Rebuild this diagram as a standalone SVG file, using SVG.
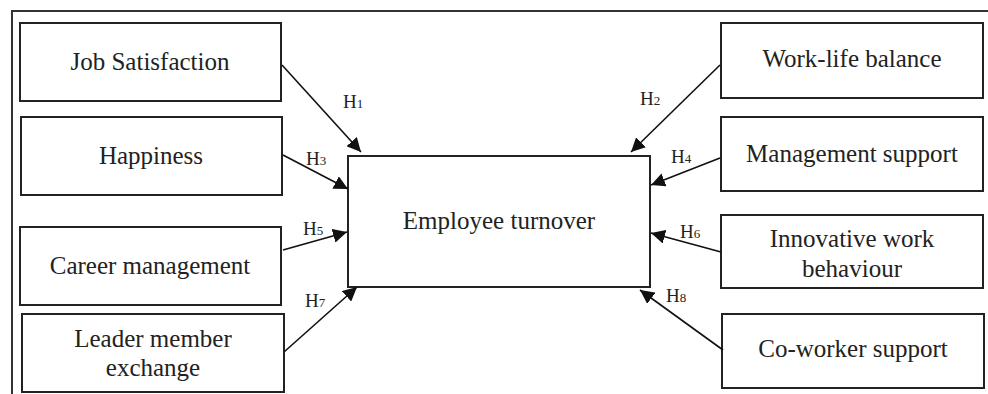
<svg xmlns="http://www.w3.org/2000/svg" width="988" height="394" viewBox="0 0 988 394">
<defs>
<marker id="ah" viewBox="0 0 10 10" refX="10" refY="5" markerWidth="14" markerHeight="14" markerUnits="userSpaceOnUse" orient="auto">
<path d="M0,0 L10,5 L0,10 Z" fill="#111"/>
</marker>
<style>
.box{fill:#fff;stroke:#222;stroke-width:2}
.t{font-family:"Liberation Serif","Times New Roman",serif;font-size:25px;fill:#222;text-anchor:middle}
.h{font-family:"Liberation Serif","Times New Roman",serif;font-size:19px;fill:#222}
.s{font-size:13px}
.c{stroke:#111;stroke-width:1.6;fill:none;marker-end:url(#ah)}
</style>
</defs>
<rect width="988" height="394" fill="#fff"/>
<path d="M12,394 V11 H988" fill="none" stroke="#333" stroke-width="2"/>
<g id="job"><rect class="box" x="20" y="23" width="261" height="78"/><text class="t" x="150" y="70">Job Satisfaction</text></g>
<g id="happiness"><rect class="box" x="21" y="117" width="261" height="78"/><text class="t" x="151" y="164">Happiness</text></g>
<g id="career"><rect class="box" x="20" y="227" width="261" height="78"/><text class="t" x="150" y="274">Career management</text></g>
<g id="lmx"><rect class="box" x="22" y="314" width="262" height="78"/><text class="t" x="153" y="347">Leader member</text><text class="t" x="153" y="376">exchange</text></g>
<g id="turnover"><rect class="box" x="348" y="156" width="302" height="131"/><text class="t" x="499" y="229">Employee turnover</text></g>
<g id="wlb"><rect class="box" x="721" y="23" width="262" height="75"/><text class="t" x="852" y="67">Work-life balance</text></g>
<g id="mgmt"><rect class="box" x="721" y="117" width="262" height="74"/><text class="t" x="852" y="162">Management support</text></g>
<g id="iwb"><rect class="box" x="721" y="215" width="262" height="73"/><text class="t" x="852" y="247">Innovative work</text><text class="t" x="852" y="277">behaviour</text></g>
<g id="cws"><rect class="box" x="722" y="314" width="262" height="74"/><text class="t" x="853" y="357">Co-worker support</text></g>
<g id="connectors">
<line class="c" x1="282" y1="65" x2="361" y2="152"/>
<line class="c" x1="283" y1="155" x2="348" y2="189"/>
<line class="c" x1="283" y1="250" x2="347" y2="232"/>
<line class="c" x1="284" y1="352" x2="357" y2="287"/>
<line class="c" x1="720" y1="65" x2="631" y2="152"/>
<line class="c" x1="720" y1="158" x2="651" y2="185"/>
<line class="c" x1="721" y1="252" x2="651" y2="233"/>
<line class="c" x1="723" y1="350" x2="640" y2="290"/>
<text class="h" x="343" y="108">H<tspan class="s">1</tspan></text>
<text class="h" x="306" y="165">H<tspan class="s">3</tspan></text>
<text class="h" x="303" y="235">H<tspan class="s">5</tspan></text>
<text class="h" x="305" y="307">H<tspan class="s">7</tspan></text>
<text class="h" x="640" y="105">H<tspan class="s">2</tspan></text>
<text class="h" x="671" y="163">H<tspan class="s">4</tspan></text>
<text class="h" x="680" y="238">H<tspan class="s">6</tspan></text>
<text class="h" x="666" y="302">H<tspan class="s">8</tspan></text>
</g>
</svg>
